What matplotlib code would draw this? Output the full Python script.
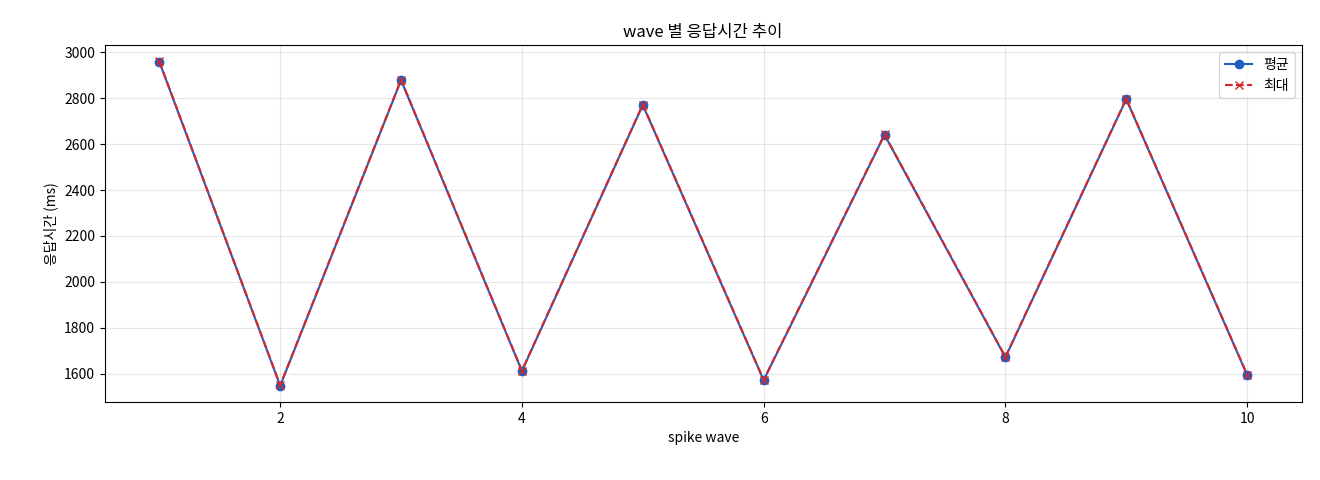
import matplotlib
matplotlib.use("Agg")
import matplotlib.pyplot as plt

plt.rcParams['font.family'] = ['Noto Sans CJK KR', 'DejaVu Sans']
plt.rcParams['axes.unicode_minus'] = False

waves = [1, 2, 3, 4, 5, 6, 7, 8, 9, 10]
avg = [2958, 1548, 2878, 1612, 2770, 1572, 2640, 1672, 2795, 1595]
mx = [2960, 1550, 2880, 1614, 2772, 1574, 2642, 1674, 2797, 1597]

fig = plt.figure(figsize=(13.2, 4.8), dpi=100)
ax = fig.add_axes([0.0795, 0.1625, 0.9065, 0.7435])
ax.plot(waves, avg, marker='o', color='#1f5fbf', label='평균', markersize=6)
ax.plot(waves, mx, marker='x', linestyle='--', color='#d62728', label='최대', markersize=6)
ax.set_title('wave 별 응답시간 추이')
ax.set_xlabel('spike wave')
ax.set_ylabel('응답시간 (ms)')
ax.grid(True, alpha=0.3)
ax.legend(loc='upper right')
fig.savefig('out.png', dpi=100)
